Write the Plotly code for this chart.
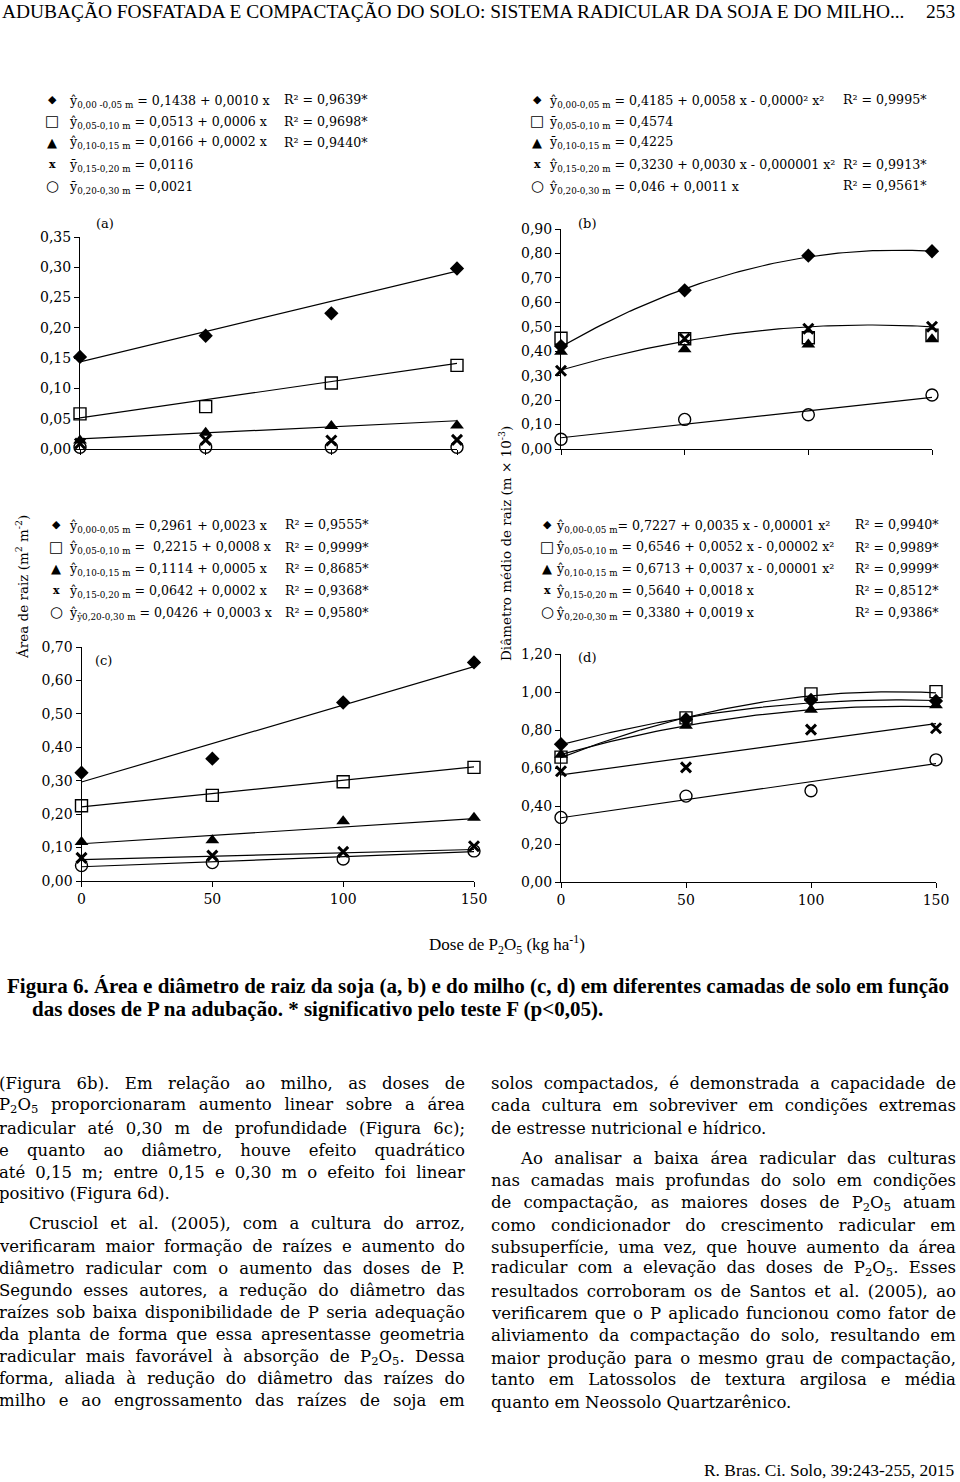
import json
import numpy as np
import plotly.graph_objects as go

W, H = 960, 1482


def px(x):
    return x / W


def py(y):
    return 1 - y / H


# ---------------- data ----------------
doses = [0, 50, 100, 150]
dose_labels = ["0", "50", "100", "150"]

# (a) soybean root area (m2 m-2)
a_diamond = [0.152, 0.187, 0.224, 0.298]
a_square = [0.058, 0.070, 0.109, 0.138]
a_triangle = [0.014, 0.027, 0.038, 0.039]
a_x = [0.009, 0.015, 0.014, 0.015]
a_circle = [0.003, 0.003, 0.003, 0.003]

# (b) soybean mean root diameter (m x 10-3)
b_diamond = [0.421, 0.649, 0.791, 0.809]
b_square = [0.453, 0.451, 0.455, 0.466]
b_triangle = [0.398, 0.408, 0.427, 0.449]
b_x = [0.320, 0.451, 0.492, 0.500]
b_circle = [0.040, 0.121, 0.140, 0.221]

# (c) corn root area
c_diamond = [0.324, 0.366, 0.534, 0.654]
c_square = [0.225, 0.256, 0.297, 0.340]
c_triangle = [0.117, 0.122, 0.179, 0.189]
c_x = [0.069, 0.076, 0.087, 0.104]
c_circle = [0.046, 0.055, 0.066, 0.090]

# (d) corn mean root diameter
d_diamond = [0.725, 0.857, 0.958, 0.953]
d_square = [0.657, 0.864, 0.990, 1.002]
d_triangle = [0.670, 0.822, 0.906, 0.930]
d_x = [0.583, 0.603, 0.802, 0.809]
d_circle = [0.340, 0.452, 0.480, 0.643]

# fitted curves as drawn (intercept, linear, quadratic); None = no curve
a_fits = [(0.1438, 0.0010, 0.0), (0.0513, 0.0006, 0.0), (0.0166, 0.0002, 0.0), None, None]
b_fits = [(0.4185, 0.0058, -0.0000213), None, None, (0.3230, 0.00295, -0.0000118), (0.046, 0.0011, 0.0)]
c_fits = [(0.2961, 0.0023, 0.0), (0.2215, 0.0008, 0.0), (0.1114, 0.0005, 0.0), (0.0642, 0.0002, 0.0), (0.0426, 0.0003, 0.0)]
d_fits = [(0.7227, 0.0035, -0.000013), (0.6546, 0.0052, -0.0000195), (0.6713, 0.0037, -0.0000135), (0.5640, 0.0018, 0.0), (0.3380, 0.0019, 0.0)]

# equation legends
a_eq = ["ŷ<sub>0,00 -0,05 m</sub> = 0,1438 + 0,0010 x",
        "ŷ<sub>0,05-0,10 m</sub> = 0,0513 + 0,0006 x",
        "ŷ<sub>0,10-0,15 m</sub> = 0,0166 + 0,0002 x",
        "ȳ<sub>0,15-0,20 m</sub> = 0,0116",
        "ȳ<sub>0,20-0,30 m</sub> = 0,0021"]
a_r2 = ["R² = 0,9639*", "R² = 0,9698*", "R² = 0,9440*", "", ""]
b_eq = ["ŷ<sub>0,00-0,05 m</sub> = 0,4185 + 0,0058 x - 0,0000² x²",
        "ȳ<sub>0,05-0,10 m</sub> = 0,4574",
        "ȳ<sub>0,10-0,15 m</sub> = 0,4225",
        "ŷ<sub>0,15-0,20 m</sub> = 0,3230 + 0,0030 x - 0,000001 x²",
        "ŷ<sub>0,20-0,30 m</sub> = 0,046 + 0,0011 x"]
b_r2 = ["R² = 0,9995*", "", "", "R² = 0,9913*", "R² = 0,9561*"]
c_eq = ["ŷ<sub>0,00-0,05 m</sub> = 0,2961 + 0,0023 x",
        "ŷ<sub>0,05-0,10 m</sub> =  0,2215 + 0,0008 x",
        "ŷ<sub>0,10-0,15 m</sub> = 0,1114 + 0,0005 x",
        "ŷ<sub>0,15-0,20 m</sub> = 0,0642 + 0,0002 x",
        "ŷ<sub>ŷ0,20-0,30 m</sub> = 0,0426 + 0,0003 x"]
c_r2 = ["R² = 0,9555*", "R² = 0,9999*", "R² = 0,8685*", "R² = 0,9368*", "R² = 0,9580*"]
d_eq = ["ŷ<sub>0,00-0,05 m</sub>= 0,7227 + 0,0035 x - 0,00001 x²",
        "ŷ<sub>0,05-0,10 m</sub> = 0,6546 + 0,0052 x - 0,00002 x²",
        "ŷ<sub>0,10-0,15 m</sub> = 0,6713 + 0,0037 x - 0,00001 x²",
        "ŷ<sub>0,15-0,20 m</sub> = 0,5640 + 0,0018 x",
        "ŷ<sub>0,20-0,30 m</sub> = 0,3380 + 0,0019 x"]
d_r2 = ["R² = 0,9940*", "R² = 0,9989*", "R² = 0,9999*", "R² = 0,8512*", "R² = 0,9386*"]

legend_symbols = ["◆", "□", "▲", "<b>x</b>", "○"]

header_text = "ADUBAÇÃO FOSFATADA E COMPACTAÇÃO DO SOLO: SISTEMA RADICULAR DA SOJA E DO MILHO..."
page_number = "253"
caption_1 = "Figura 6. Área e diâmetro de raiz da soja (a, b) e do milho (c, d) em diferentes camadas de solo em função"
caption_2 = "das doses de P na adubação. * significativo pelo teste F (p&lt;0,05)."
footer_text = "R. Bras. Ci. Solo, 39:243-255, 2015"

left_lines = [
    "(Figura 6b). Em relação ao milho, as doses de",
    "P<sub>2</sub>O<sub>5</sub> proporcionaram aumento linear sobre a área",
    "radicular até 0,30 m de profundidade (Figura 6c);",
    "e quanto ao diâmetro, houve efeito quadrático",
    "até 0,15 m; entre 0,15 e 0,30 m o efeito foi linear",
    "positivo (Figura 6d).",
    "Crusciol et al. (2005), com a cultura do arroz,",
    "verificaram maior formação de raízes e aumento do",
    "diâmetro radicular com o aumento das doses de P.",
    "Segundo esses autores, a redução do diâmetro das",
    "raízes sob baixa disponibilidade de P seria adequação",
    "da planta de forma que essa apresentasse geometria",
    "radicular mais favorável à absorção de P<sub>2</sub>O<sub>5</sub>. Dessa",
    "forma, aliada à redução do diâmetro das raízes do",
    "milho e ao engrossamento das raízes de soja em",
]
right_lines = [
    "solos compactados, é demonstrada a capacidade de",
    "cada cultura em sobreviver em condições extremas",
    "de estresse nutricional e hídrico.",
    "Ao analisar a baixa área radicular das culturas",
    "nas camadas mais profundas do solo em condições",
    "de compactação, as maiores doses de P<sub>2</sub>O<sub>5</sub> atuam",
    "como condicionador do crescimento radicular em",
    "subsuperfície, uma vez, que houve aumento da área",
    "radicular com a elevação das doses de P<sub>2</sub>O<sub>5</sub>. Esses",
    "resultados corroboram os de Santos et al. (2005), ao",
    "verificarem que o P aplicado funcionou como fator de",
    "aliviamento da compactação do solo, resultando em",
    "maior produção para o mesmo grau de compactação,",
    "tanto em Latossolos de textura argilosa e média",
    "quanto em Neossolo Quartzarênico.",
]
# lines that end a paragraph (not justified)
left_last = {5}
right_last = {2, 14}

# ---------------- figure ----------------
SERIF = "DejaVu Serif"
TIMES = "Liberation Serif"
styles = [
    dict(symbol="diamond", size=11, color="black"),
    dict(symbol="square-open", size=12, color="black", line=dict(width=1.4, color="black")),
    dict(symbol="triangle-up", size=12, color="black"),
    dict(symbol="x-thin-open", size=10, color="black", line=dict(width=3, color="black")),
    dict(symbol="circle-open", size=12, color="black", line=dict(width=1.4, color="black")),
]

panels = [
    dict(ax="", series=[a_diamond, a_square, a_triangle, a_x, a_circle], fits=a_fits,
         xd=(80, 457), yd=(237, 449), top=0.35, dtick=0.05, xlabels=False),
    dict(ax="2", series=[b_diamond, b_square, b_triangle, b_x, b_circle], fits=b_fits,
         xd=(561, 932), yd=(229, 449), top=0.90, dtick=0.10, xlabels=False),
    dict(ax="3", series=[c_diamond, c_square, c_triangle, c_x, c_circle], fits=c_fits,
         xd=(81.5, 474), yd=(647, 881), top=0.70, dtick=0.10, xlabels=True),
    dict(ax="4", series=[d_diamond, d_square, d_triangle, d_x, d_circle], fits=d_fits,
         xd=(561, 936), yd=(654, 882), top=1.20, dtick=0.20, xlabels=True),
]

fig = go.Figure()
xs = np.linspace(0, 150, 76)
layout_axes = {}
for p in panels:
    xr, yr = "x" + p["ax"], "y" + p["ax"]
    for fit in p["fits"]:
        if fit is None:
            continue
        b0, b1, b2 = fit
        fig.add_trace(go.Scatter(x=xs, y=b0 + b1 * xs + b2 * xs ** 2, mode="lines",
                                 line=dict(color="black", width=1.2), xaxis=xr, yaxis=yr,
                                 showlegend=False, hoverinfo="skip"))
    for vals, st in zip(p["series"], styles):
        fig.add_trace(go.Scatter(x=doses, y=vals, mode="markers", marker=st, xaxis=xr, yaxis=yr,
                                 cliponaxis=False, showlegend=False))
    layout_axes["xaxis" + p["ax"]] = dict(
        domain=[px(p["xd"][0]), px(p["xd"][1])], range=[0, 150], anchor=yr, automargin=False,
        showline=True, linecolor="black", linewidth=1, ticks="outside", ticklen=5,
        tickcolor="black", tickwidth=1, tickvals=doses, ticktext=dose_labels,
        showticklabels=p["xlabels"], showgrid=False, zeroline=False,
        tickfont=dict(family=SERIF, size=14, color="black"))
    layout_axes["yaxis" + p["ax"]] = dict(
        domain=[py(p["yd"][1]), py(p["yd"][0])], range=[0, p["top"]], anchor=xr, automargin=False,
        showline=True, linecolor="black", linewidth=1, ticks="outside", ticklen=5,
        tickcolor="black", tickwidth=1, tick0=0, dtick=p["dtick"], tickformat=".2f",
        showgrid=False, zeroline=False,
        tickfont=dict(family=SERIF, size=14, color="black"))

ann = []
PAD = 3  # text inset of left-anchored annotations


def text(x, y, s, size=13, anchor="left", family=SERIF, angle=0):
    xx = x - PAD if anchor == "left" else x
    ann.append(dict(x=px(xx), y=py(y), xref="paper", yref="paper", text=s, showarrow=False,
                    xanchor=anchor, yanchor="middle", align=anchor,
                    textangle=angle, borderpad=0, borderwidth=0,
                    font=dict(family=family, size=size, color="black")))
    return len(ann) - 1


# equation legends
leg_specs = [
    (a_eq, a_r2, 52, 72, 287, [100, 121, 142, 164, 186]),
    (b_eq, b_r2, 537, 552, 846, [100, 121, 142, 164, 186]),
    (c_eq, c_r2, 56, 72, 288, [525, 547, 568, 590, 612]),
    (d_eq, d_r2, 547, 559, 858, [525, 547, 568, 590, 612]),
]
sym_sizes = [11, 15, 13, 12, 15]
for eqs, r2s, sx, tx, rx, rows in leg_specs:
    for i, (e, r, yy) in enumerate(zip(eqs, r2s, rows)):
        fam = "DejaVu Sans" if i != 3 else SERIF
        text(sx, yy, legend_symbols[i], size=sym_sizes[i] if i != 3 else 11, anchor="center", family=fam)
        text(tx, yy + 1, e, size=12.6)
        if r:
            text(rx, yy, r, size=12.6)

# panel letters
text(105, 224, "(a)", size=13, anchor="center")
text(587, 224, "(b)", size=13, anchor="center")
text(103, 660, "(c)", size=13, anchor="center")
text(587, 657, "(d)", size=13, anchor="center")

# axis titles
text(22, 587, "Área de raiz (m<sup>2</sup> m<sup>-2</sup>)", size=13.5, anchor="center", angle=-90)
text(505, 543, "Diâmetro médio de raiz (m × 10<sup>-3</sup>)", size=13.5, anchor="center", angle=-90)
text(507, 944, "Dose de P<sub>2</sub>O<sub>5</sub> (kg ha<sup>-1</sup>)", size=17, anchor="center",
     family=TIMES)

# header / caption / footer
text(5, 12, header_text, size=19.4, family=TIMES)
text(955, 12, page_number, size=19.4, anchor="right", family=TIMES)
text(10, 986, "<b>" + caption_1 + "</b>", size=21, family=TIMES)
text(35, 1009, "<b>" + caption_2 + "</b>", size=21, family=TIMES)
text(955, 1470, footer_text, size=17.4, anchor="right", family=TIMES)

left_y = [1083, 1105, 1128, 1150, 1172, 1193, 1223, 1246, 1268, 1290, 1312, 1334, 1357, 1378, 1400]
right_y = [1083, 1105, 1128, 1158, 1180, 1203, 1225, 1247, 1268, 1291, 1313, 1335, 1358, 1379, 1402]
justify = {}
for i, (s, yy) in enumerate(zip(left_lines, left_y)):
    k = text(2 + (30 if i == 6 else 0), yy, s, size=16.5)
    if i not in left_last:
        justify[str(k)] = 465
for i, (s, yy) in enumerate(zip(right_lines, right_y)):
    k = text(494 + (29 if i == 3 else 0), yy, s, size=16.5)
    if i not in right_last:
        justify[str(k)] = 956

fig.update_layout(
    width=W, height=H, margin=dict(l=0, r=0, t=0, b=0, autoexpand=False),
    paper_bgcolor="white", plot_bgcolor="white", separators=",.",
    showlegend=False, annotations=ann, **layout_axes)

# justify body-text lines (word spacing) like the printed page
post_js = """
var gd = document.getElementById('{plot_id}');
var J = %s;
function justifyLines() {
  var base = gd.getBoundingClientRect().left;
  gd.querySelectorAll('g.annotation').forEach(function (g) {
    var idx = g.getAttribute('data-index');
    if (!(idx in J)) return;
    var t = g.querySelector('text');
    if (!t) return;
    t.style.wordSpacing = '0px';
    var r = t.getBoundingClientRect();
    var n = (t.textContent.match(/[ \\u00a0]/g) || []).length;
    if (n > 0) t.style.wordSpacing = ((J[idx] - (r.right - base)) / n) + 'px';
  });
}
justifyLines();
if (document.fonts && document.fonts.ready) { document.fonts.ready.then(justifyLines); }
""" % json.dumps(justify)

fig.write_html("out.html", post_script=post_js)
